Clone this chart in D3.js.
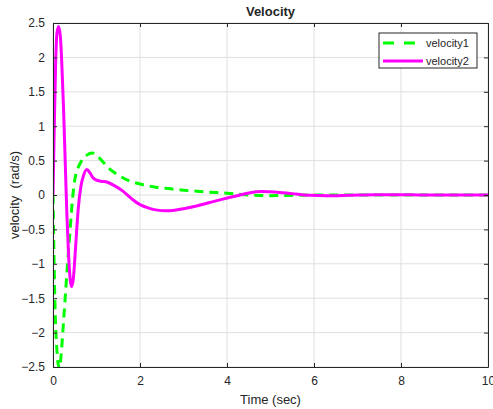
<!DOCTYPE html>
<html>
<head>
<meta charset="utf-8">
<script src="https://cdn.jsdelivr.net/npm/d3@7"></script>
<style>
body{margin:0;background:#fff;}
text{font-family:"Liberation Sans",Arial,sans-serif;fill:#262626;}
</style>
</head>
<body>
<script>
// time samples (sec) and the two velocity traces
var t1 = [0,0.02,0.05,0.08,0.11,0.15,0.19,0.23,0.28,0.34,0.4,0.45,0.5,0.58,0.66,0.78,0.9,1.0,1.15,1.3,1.5,1.7,2.0,2.3,2.7,3.0,3.5,4.0,4.5,5.0,5.5,6.0,7,8,9,10];
var velocity1 = [0,-0.8,-1.7,-2.15,-2.42,-2.52,-2.3,-1.95,-1.5,-0.95,-0.45,-0.05,0.22,0.4,0.5,0.58,0.61,0.58,0.48,0.38,0.29,0.22,0.16,0.12,0.09,0.07,0.045,0.025,0.0,-0.01,-0.005,0,0,0,0,0];
var t2 = [0,0.03,0.06,0.09,0.13,0.17,0.2,0.24,0.28,0.32,0.36,0.4,0.43,0.47,0.52,0.58,0.64,0.7,0.78,0.85,0.92,1.0,1.1,1.25,1.4,1.6,1.8,2.0,2.2,2.4,2.6,2.8,3.0,3.3,3.6,3.9,4.2,4.5,4.8,5.1,5.5,5.9,6.3,6.8,7.4,8,8.5,10];
var velocity2 = [0,1.0,1.9,2.35,2.45,2.3,1.95,1.3,0.5,-0.3,-0.9,-1.25,-1.33,-1.2,-0.75,-0.2,0.12,0.28,0.37,0.32,0.25,0.215,0.2,0.185,0.14,0.06,-0.05,-0.14,-0.19,-0.22,-0.23,-0.22,-0.2,-0.16,-0.11,-0.06,-0.015,0.03,0.05,0.045,0.02,-0.005,-0.012,-0.005,0.005,0.005,0,0];
var xTicks = [0,2,4,6,8,10];
var yTicks = [-2.5,-2,-1.5,-1,-0.5,0,0.5,1,1.5,2,2.5];
var names = ["velocity1","velocity2"];

var W = 493, H = 409;
var L = 53, R = 488, T = 23, B = 367;

var svg = d3.select("body").append("svg")
    .attr("width", W).attr("height", H);

var x = d3.scaleLinear().domain([0,10]).range([L,R]);
var y = d3.scaleLinear().domain([-2.5,2.5]).range([B,T]);

// grid
svg.append("g").selectAll("line").data(xTicks).enter().append("line")
    .attr("x1", d => x(d)).attr("x2", d => x(d))
    .attr("y1", T).attr("y2", B)
    .attr("stroke", "#dfdfdf").attr("stroke-width", 1);
svg.append("g").selectAll("line").data(yTicks).enter().append("line")
    .attr("x1", L).attr("x2", R)
    .attr("y1", d => y(d)).attr("y2", d => y(d))
    .attr("stroke", "#dfdfdf").attr("stroke-width", 1);

svg.append("clipPath").attr("id","clip")
    .append("rect").attr("x",L).attr("y",T).attr("width",R-L).attr("height",B-T);

var line = d3.line().curve(d3.curveMonotoneX)
    .x(d => x(d[0])).y(d => y(d[1]));

var plot = svg.append("g").attr("clip-path","url(#clip)");
plot.append("path")
    .datum(t1.map((t,i) => [t, velocity1[i]]))
    .attr("d", line).attr("fill","none")
    .attr("stroke","#00ff00").attr("stroke-width",3)
    .attr("stroke-dasharray","9,6");
plot.append("path")
    .datum(t2.map((t,i) => [t, velocity2[i]]))
    .attr("d", line).attr("fill","none")
    .attr("stroke","#ff00ff").attr("stroke-width",3);

// axes (ticks inside, box on)
var axB = svg.append("g").attr("transform","translate(0,"+B+")")
    .call(d3.axisBottom(x).tickValues(xTicks).tickSizeInner(-4).tickSizeOuter(0).tickPadding(9));
var axT = svg.append("g").attr("transform","translate(0,"+T+")")
    .call(d3.axisTop(x).tickValues(xTicks).tickSizeInner(-4).tickSizeOuter(0).tickFormat(""));
var axL = svg.append("g").attr("transform","translate("+L+",0)")
    .call(d3.axisLeft(y).tickValues(yTicks).tickSizeInner(-4).tickSizeOuter(0).tickPadding(8).tickFormat(d3.format("")));
var axR = svg.append("g").attr("transform","translate("+R+",0)")
    .call(d3.axisRight(y).tickValues(yTicks).tickSizeInner(-4).tickSizeOuter(0).tickFormat(""));
[axB,axT,axL,axR].forEach(function(a){
    a.select(".domain").attr("stroke","#262626").attr("stroke-width",1);
    a.selectAll(".tick line").attr("stroke","#262626");
    a.selectAll("text").attr("font-size",12).attr("fill","#262626")
        .attr("font-family","'Liberation Sans',Arial,sans-serif");
});

// title and labels
svg.append("text").attr("x",(L+R)/2).attr("y",16).attr("text-anchor","middle")
    .attr("font-size",13).attr("font-weight","bold").text("Velocity");
svg.append("text").attr("x",(L+R)/2).attr("y",404).attr("text-anchor","middle")
    .attr("font-size",13).text("Time (sec)");
svg.append("text").attr("transform","translate(19,"+((T+B)/2)+") rotate(-90)")
    .attr("text-anchor","middle").attr("font-size",13).style("white-space","pre")
    .text("velocity  (rad/s)");

// legend
var lg = svg.append("g");
lg.append("rect").attr("x",379).attr("y",33).attr("width",98).attr("height",35)
    .attr("fill","#fff").attr("stroke","#262626").attr("stroke-width",1);
var styles = [{c:"#00ff00",d:"11,10"},{c:"#ff00ff",d:null}];
names.forEach(function(n,i){
    var yy = 43 + i*18;
    lg.append("line").attr("x1",383).attr("x2",423).attr("y1",yy).attr("y2",yy)
        .attr("stroke",styles[i].c).attr("stroke-width",3)
        .attr("stroke-dasharray",styles[i].d);
    lg.append("text").attr("x",426).attr("y",yy+4).attr("font-size",11).text(n);
});
</script>
</body>
</html>
